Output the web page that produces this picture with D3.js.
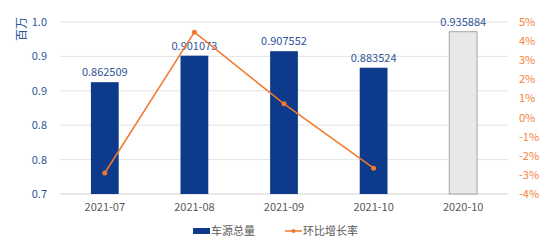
<!DOCTYPE html>
<html>
<head>
<meta charset="utf-8">
<script src="https://cdn.jsdelivr.net/npm/d3@7"></script>
<style>
  body { margin: 0; background: #fff; }
  text { font-family: "Noto Sans CJK SC", "Noto Sans", sans-serif; }
</style>
</head>
<body>
<div id="chart"></div>
<script>
const categories = ["2021-07", "2021-08", "2021-09", "2021-10", "2020-10"];
const totals = [0.862509, 0.901073, 0.907552, 0.883524, 0.935884];
const growth = [-2.9, 4.47, 0.72, -2.65]; // 环比增长率 (%), only 2021 months
const leftTicks = [0.7, 0.75, 0.8, 0.85, 0.9, 0.95];
const leftTickLabels = ["0.7", "0.8", "0.8", "0.9", "0.9", "1.0"];
const rightTicks = [-4, -3, -2, -1, 0, 1, 2, 3, 4, 5];

const width = 550, height = 240;
const margin = { top: 22, right: 42, bottom: 46, left: 60 };
const plotW = width - margin.left - margin.right;
const plotH = height - margin.top - margin.bottom;

const svg = d3.select("#chart").append("svg")
  .attr("width", width)
  .attr("height", height);

const g = svg.append("g")
  .attr("transform", `translate(${margin.left}, ${margin.top})`);

const x = d3.scaleBand()
  .domain(categories)
  .range([0, plotW])
  .paddingInner(0.69)
  .paddingOuter(0.345);

const xPoint = d3.scalePoint()
  .domain(categories)
  .range([0, plotW])
  .padding(0.5);

const y = d3.scaleLinear().domain([0.7, 0.95]).range([plotH, 0]);
const y2 = d3.scaleLinear().domain([-4, 5]).range([plotH, 0]);

// grid lines
g.append("g")
  .selectAll("line")
  .data(leftTicks)
  .enter()
  .append("line")
  .attr("x1", 0)
  .attr("x2", plotW)
  .attr("y1", d => y(d))
  .attr("y2", d => y(d))
  .attr("stroke", d => d === 0.7 ? "#d0d0d0" : "#e3e3e3")
  .attr("stroke-width", 1);

// left axis
const leftAxis = d3.axisLeft(y)
  .tickValues(leftTicks)
  .tickSize(0)
  .tickPadding(13)
  .tickFormat((d, i) => leftTickLabels[i]);

const la = g.append("g").call(leftAxis);
la.select(".domain").remove();
la.selectAll("text")
  .attr("fill", "#2f5597")
  .style("font-size", "11px");

// right axis
const rightAxis = d3.axisRight(y2)
  .tickValues(rightTicks)
  .tickSize(0)
  .tickPadding(11)
  .tickFormat(d => d + "%");

const ra = g.append("g")
  .attr("transform", `translate(${plotW}, 0)`)
  .call(rightAxis);
ra.select(".domain").remove();
ra.selectAll("text")
  .attr("fill", "#f4813a")
  .style("font-size", "11px");

// bottom axis
const bottomAxis = d3.axisBottom(x).tickSize(0).tickPadding(9);
const ba = g.append("g")
  .attr("transform", `translate(0, ${plotH})`)
  .call(bottomAxis);
ba.select(".domain").remove();
ba.selectAll("text")
  .attr("fill", "#595959")
  .style("font-size", "11px");

// unit label
svg.append("text")
  .attr("transform", `translate(26, 29) rotate(-90)`)
  .attr("text-anchor", "middle")
  .attr("fill", "#2f5597")
  .style("font-size", "12px")
  .text("百万");

// bars
const lastIdx = categories.length - 1;
g.selectAll(".bar")
  .data(totals)
  .enter()
  .append("rect")
  .attr("class", "bar")
  .attr("x", (d, i) => x(categories[i]))
  .attr("y", d => y(d))
  .attr("width", x.bandwidth())
  .attr("height", d => plotH - y(d))
  .attr("fill", (d, i) => i === lastIdx ? "#e8e8e8" : "#0d3a8a")
  .attr("stroke", (d, i) => i === lastIdx ? "#a6a6a6" : "none")
  .attr("stroke-width", 1);

g.selectAll(".bar-label")
  .data(totals)
  .enter()
  .append("text")
  .attr("class", "bar-label")
  .attr("x", (d, i) => x(categories[i]) + x.bandwidth() / 2)
  .attr("y", d => y(d) - 6)
  .attr("text-anchor", "middle")
  .attr("fill", "#2f5597")
  .style("font-size", "11px")
  .text(d => d.toFixed(6));

// growth line
const line = d3.line()
  .x((d, i) => xPoint(categories[i]))
  .y(d => y2(d));

g.append("path")
  .datum(growth)
  .attr("d", line)
  .attr("fill", "none")
  .attr("stroke", "#f4782b")
  .attr("stroke-width", 1.5);

g.selectAll(".dot")
  .data(growth)
  .enter()
  .append("circle")
  .attr("class", "dot")
  .attr("cx", (d, i) => xPoint(categories[i]))
  .attr("cy", d => y2(d))
  .attr("r", 2.5)
  .attr("fill", "#f4782b");

// legend
const legend = svg.append("g").attr("transform", "translate(193, 231)");
legend.append("rect")
  .attr("x", 0).attr("y", -3)
  .attr("width", 17).attr("height", 6)
  .attr("fill", "#0d3a8a");
legend.append("text")
  .attr("x", 18).attr("y", 4)
  .attr("fill", "#595959")
  .style("font-size", "11px")
  .text("车源总量");
legend.append("line")
  .attr("x1", 92).attr("x2", 109)
  .attr("y1", 0).attr("y2", 0)
  .attr("stroke", "#f4782b")
  .attr("stroke-width", 1.5);
legend.append("circle")
  .attr("cx", 100.5).attr("cy", 0).attr("r", 2)
  .attr("fill", "#f4782b");
legend.append("text")
  .attr("x", 110).attr("y", 4)
  .attr("fill", "#595959")
  .style("font-size", "11px")
  .text("环比增长率");
</script>
</body>
</html>
